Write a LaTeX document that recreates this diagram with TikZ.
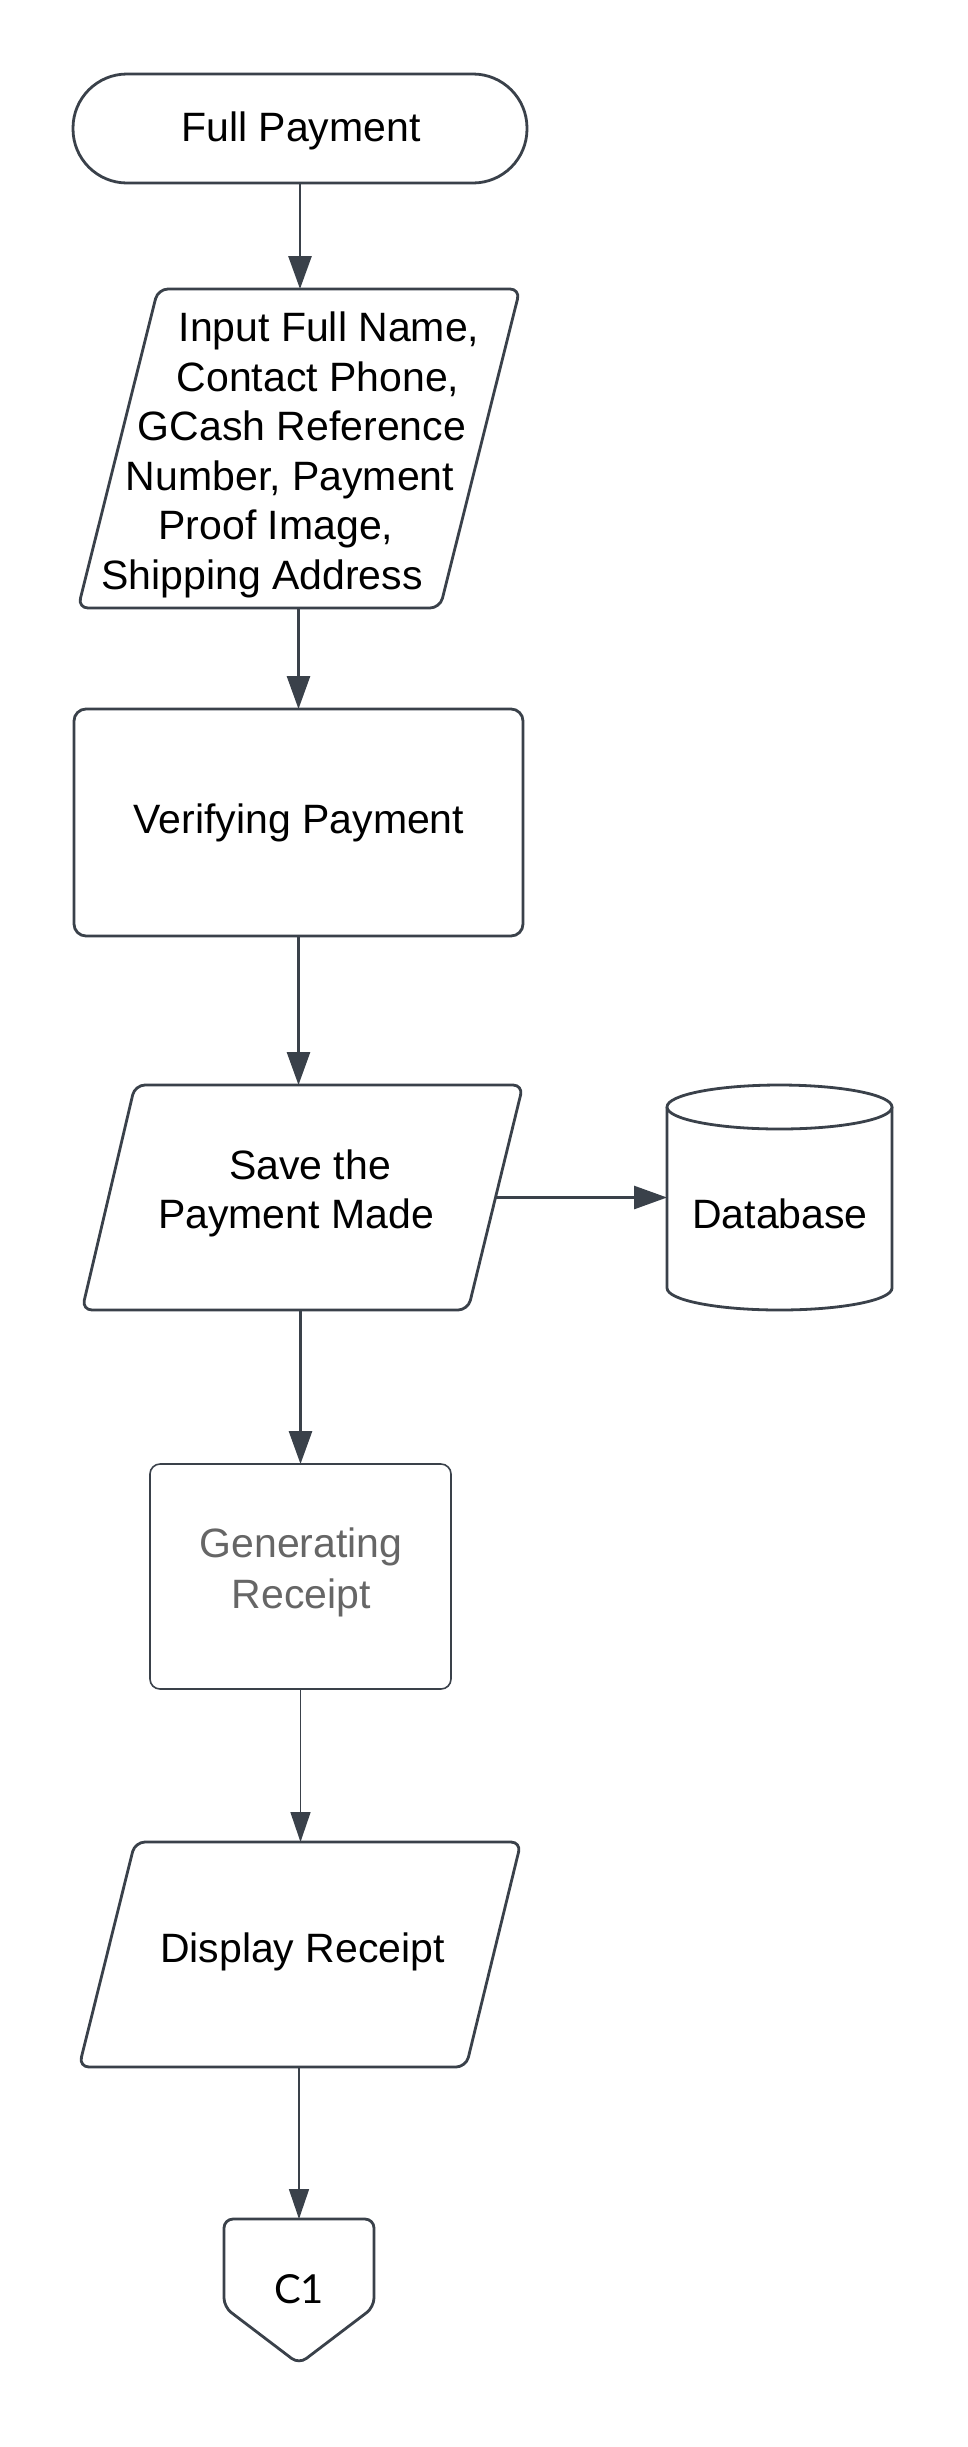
\documentclass[tikz,border=0pt]{standalone}
\usepackage{fontspec}
\setmainfont{Liberation Sans}
\newfontfamily\latofont{Lato}
\usetikzlibrary{arrows.meta}
\definecolor{ln}{HTML}{3A414A}
\definecolor{gtxt}{HTML}{666666}
\begin{document}
\begin{tikzpicture}[x=1pt,y=-1pt,
 shp/.style={draw=ln, line width=2.8pt, fill=white, inner sep=0pt, outer sep=0pt},
 thinshp/.style={shp, line width=1.6pt},
 para/.style={shp, rounded corners=10pt},
 box/.style={inner sep=0pt, outer sep=0pt},
 arr/.style={draw=ln, line width=2.8pt, -{Triangle[length=33pt,width=23pt]}},
 tarr/.style={draw=ln, line width=1.6pt, -{Triangle[length=30pt,width=20pt]}},
 txt/.style={font=\fontsize{41}{49}\selectfont, inner sep=0pt, outer sep=0pt, anchor=base},
]
\fill[white] (0,0) rectangle (968,2447);
\useasboundingbox (0,0) rectangle (968,2447);

% Full Payment
\node[shp, rounded corners=54pt, minimum width=454pt, minimum height=109pt] (start) at (300,128.5) {};
\node[txt] (startt) at (301,141) {Full Payment};

% Input parallelogram
\node[box, minimum width=442pt, minimum height=319pt] (in1) at (299,448.5) {};
\draw[para] (158,289) -- (520,289) -- (440,608) -- (78,608) -- cycle;
\node[txt] (in1a) at (329,341.5) {Input Full Name,};
\node[txt] (in1b) at (318,391) {Contact Phone,};
\node[txt] (in1c) at (302,440.5) {GCash Reference};
\node[txt] (in1d) at (290,490) {Number, Payment};
\node[txt] (in1e) at (276,539.5) {Proof Image,};
\node[txt] (in1f) at (262,589) {Shipping Address};

% Verifying Payment
\node[shp, rounded corners=12pt, minimum width=449pt, minimum height=227pt] (ver) at (298.5,822.5) {};
\node[txt] (vert) at (299,833) {Verifying Payment};

% Save the Payment Made
\node[box, minimum width=441pt, minimum height=225pt] (save) at (302.5,1197.5) {};
\draw[para] (135,1085) -- (523,1085) -- (468,1310) -- (82,1310) -- cycle;
\coordinate (saveE) at (495.5,1197.5);
\node[txt] (savea) at (310,1179) {Save the};
\node[txt] (saveb) at (296,1228) {Payment Made};

% Database cylinder
\node[box, minimum width=225pt, minimum height=225pt] (db) at (779.5,1197.5) {};
\draw[shp] (667,1107) -- (667,1288) arc[start angle=180, end angle=0, x radius=112.5, y radius=22] -- (892,1107);
\draw[shp] (779.5,1107) ellipse[x radius=112.5, y radius=22];
\node[txt] (dbt) at (780,1228) {Database};

% Generating Receipt
\node[thinshp, rounded corners=10pt, minimum width=301pt, minimum height=225pt] (gen) at (300.5,1576.5) {};
\node[txt, text=gtxt] (gena) at (301,1557.5) {Generating};
\node[txt, text=gtxt] (genb) at (301.5,1608) {Receipt};

% Display Receipt
\node[box, minimum width=442pt, minimum height=225pt] (disp) at (300,1954.5) {};
\draw[para] (135,1842) -- (521,1842) -- (466,2067) -- (79,2067) -- cycle;
\node[txt] (dispt) at (302.5,1962) {Display Receipt};

% C1 off-page connector
\coordinate (c1top) at (299,2219);
\draw[shp, rounded corners=9pt] (224,2219) -- (374,2219) -- (374,2307) -- (299,2364) -- (224,2307) -- cycle;
\node[txt, font=\latofont\fontsize{40}{48}\selectfont] (c1) at (299,2303) {C1};

% connectors
\draw[arr] (start.south) -- (start.south |- in1.north);
\draw[arr] (ver.north |- in1.south) -- (ver.north);
\draw[arr] (ver.south) -- (ver.south |- save.north);
\draw[arr] (saveE) -- (db.west);
\draw[arr] (save.south -| gen.north) -- (gen.north);
\draw[tarr] (gen.south) -- (gen.south |- disp.north);
\draw[tarr] (c1top |- disp.south) -- (c1top);
\end{tikzpicture}
\end{document}
